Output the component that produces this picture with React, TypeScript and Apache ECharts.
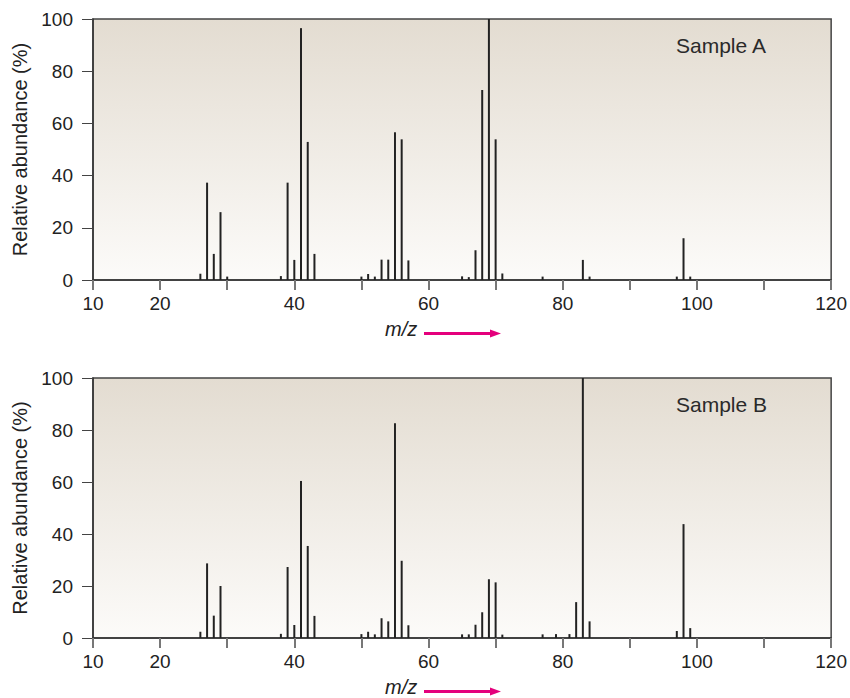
import React, { useEffect, useRef } from "react";
import * as echarts from "echarts";

const mzA = [26, 27, 28, 29, 30, 38, 39, 40, 41, 42, 43, 50, 51, 52, 53, 54, 55, 56, 57, 65, 66, 67, 68, 69, 70, 71, 77, 83, 84, 97, 98, 99];
const abundanceA = [2.4, 37.3, 10, 26, 1.3, 1.5, 37.3, 7.7, 96.5, 52.9, 10, 1.3, 2.3, 1.3, 7.8, 7.8, 56.6, 53.9, 7.5, 1.4, 1.1, 11.4, 72.8, 100, 53.9, 2.5, 1.3, 7.7, 1.3, 1.3, 16, 1.3];

const mzB = [26, 27, 28, 29, 38, 39, 40, 41, 42, 43, 50, 51, 52, 53, 54, 55, 56, 57, 65, 66, 67, 68, 69, 70, 71, 77, 79, 81, 82, 83, 84, 97, 98, 99];
const abundanceB = [2.4, 28.7, 8.6, 20, 1.6, 27.3, 5, 60.4, 35.4, 8.5, 1.5, 2.4, 1.4, 7.6, 6.4, 82.6, 29.7, 4.9, 1.4, 1.4, 5.1, 9.9, 22.6, 21.4, 1.3, 1.4, 1.5, 1.5, 13.8, 100, 6.4, 2.7, 43.8, 3.8];

const sampleNames = ["Sample A", "Sample B"];
const xLabelValues = [10, 20, 40, 60, 80, 100, 120];
const yAxisTitle = "Relative abundance (%)";
const xAxisTitle = "m/z";

const FONT = "'Liberation Sans', Arial, Helvetica, sans-serif";
const TEXT = "#222";
const MAGENTA = "#e4007c";

export default function App() {
  const ref = useRef<HTMLDivElement>(null);

  useEffect(() => {
    if (!ref.current) return;
    const chart = echarts.init(ref.current, null, { renderer: "svg" });

    const grids = [
      { top: 19, height: 261 },
      { top: 378, height: 260 },
    ];

    const bg = new echarts.graphic.LinearGradient(0, 0, 0, 1, [
      { offset: 0, color: "#e3dcd1" },
      { offset: 1, color: "#fcfbf9" },
    ]);

    const xAxes = grids.map((_, i) => ({
      type: "value",
      gridIndex: i,
      min: 10,
      max: 120,
      interval: 10,
      axisLine: { show: true, onZero: false, lineStyle: { color: "#333", width: 1.5 } },
      axisTick: { show: true, inside: false, length: 10, lineStyle: { color: "#777", width: 2 } },
      axisLabel: {
        margin: 14,
        fontSize: 19,
        color: TEXT,
        fontFamily: FONT,
        formatter: (v: number) => (xLabelValues.includes(v) ? String(v) : ""),
      },
      splitLine: { show: false },
    }));

    const yAxes = grids.map((_, i) => ({
      type: "value",
      gridIndex: i,
      min: 0,
      max: 100,
      interval: 20,
      name: yAxisTitle,
      nameLocation: "middle",
      nameGap: 61,
      nameTextStyle: { fontSize: 20, color: TEXT, fontFamily: FONT },
      axisLine: { show: true, lineStyle: { color: "#333", width: 1.5 } },
      axisTick: { show: true, inside: false, length: 11, lineStyle: { color: "#444", width: 1 } },
      axisLabel: { margin: 20, fontSize: 19, color: TEXT, fontFamily: FONT },
      splitLine: { show: false },
    }));

    const datasets = [
      mzA.map((m, k) => [m, abundanceA[k]]),
      mzB.map((m, k) => [m, abundanceB[k]]),
    ];

    const graphics: any[] = [];
    grids.forEach((g, i) => {
      const bottom = g.top + g.height;
      graphics.push({
        type: "text",
        left: 676,
        top: g.top + 16,
        style: { text: sampleNames[i], fontSize: 21, fill: "#2a2a2a", fontFamily: FONT },
      });
      graphics.push({
        type: "text",
        left: 385,
        top: bottom + 39,
        style: { text: xAxisTitle, fontSize: 20, fontStyle: "italic", fill: TEXT, fontFamily: FONT },
      });
      graphics.push({
        type: "line",
        shape: { x1: 424, y1: bottom + 53.5, x2: 492, y2: bottom + 53.5 },
        style: { stroke: MAGENTA, lineWidth: 3 },
      });
      graphics.push({
        type: "polygon",
        shape: { points: [[490, bottom + 49.5], [501, bottom + 53.5], [490, bottom + 57.5]] },
        style: { fill: MAGENTA },
      });
    });

    chart.setOption({
      animation: false,
      backgroundColor: "#fff",
      grid: grids.map((g) => ({
        left: 93,
        right: 18,
        top: g.top,
        height: g.height,
        show: true,
        backgroundColor: bg,
        borderColor: "#444",
        borderWidth: 1.5,
      })),
      xAxis: xAxes,
      yAxis: yAxes,
      series: datasets.map((d, i) => ({
        type: "bar",
        xAxisIndex: i,
        yAxisIndex: i,
        data: d,
        barWidth: 2,
        itemStyle: { color: "#222" },
        silent: true,
      })),
      graphic: graphics,
    });

    return () => chart.dispose();
  }, []);

  return (
    <div
      ref={ref}
      style={{ position: "absolute", left: 0, top: 0, width: 850, height: 698 }}
    />
  );
}
